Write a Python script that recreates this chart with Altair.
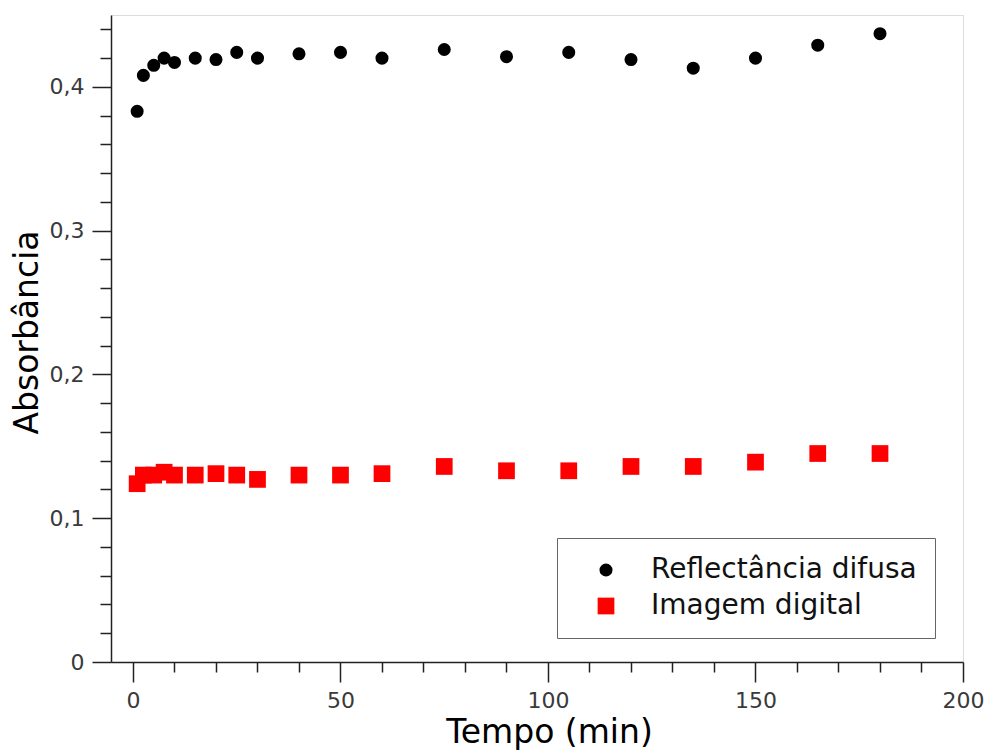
import altair as alt
import pandas as pd

# Tempo de leitura (min)
tempo = [1, 2.5, 5, 7.5, 10, 15, 20, 25, 30, 40, 50, 60, 75, 90, 105, 120, 135, 150, 165, 180]

# Absorbância medida por reflectância difusa
reflectancia = [0.383, 0.408, 0.415, 0.420, 0.417, 0.420, 0.419, 0.424, 0.420, 0.423,
                0.424, 0.420, 0.426, 0.421, 0.424, 0.419, 0.413, 0.420, 0.429, 0.437]

# Absorbância obtida por imagem digital
imagem = [0.124, 0.130, 0.130, 0.132, 0.130, 0.130, 0.131, 0.130, 0.127, 0.130,
          0.130, 0.131, 0.136, 0.133, 0.133, 0.136, 0.136, 0.139, 0.145, 0.145]

series = ["Reflectância difusa", "Imagem digital"]

df = pd.concat([
    pd.DataFrame({"tempo": tempo, "abs": reflectancia, "serie": series[0]}),
    pd.DataFrame({"tempo": tempo, "abs": imagem, "serie": series[1]}),
])

FONT = "DejaVu Sans"

y_ticks = [round(i * 0.02, 2) for i in range(23)]
x_ticks = list(range(0, 201, 10))

y_major = "abs(datum.value*10 - round(datum.value*10)) < 1e-6"
x_major = "datum.value % 50 == 0"

x_axis = alt.Axis(
    values=x_ticks,
    labelExpr=f"{x_major} ? format(datum.value, 'd') : ''",
    tickSize={"condition": {"test": x_major, "value": 20}, "value": 10},
    grid=False,
    title="Tempo (min)",
    titleFontSize=33,
    titleFontWeight="normal",
    titleFont=FONT,
    titleColor="#000000",
    titleX=438,
    titleY=80,
    titleAlign="center",
    titleBaseline="alphabetic",
    labelFontSize=22,
    labelFont=FONT,
    labelColor="#3a3a3a",
    labelPadding=8,
    labelFlush=False,
    domainColor="#222222",
    domainWidth=1.5,
    tickColor="#222222",
    tickWidth=1.5,
)

y_axis = alt.Axis(
    values=y_ticks,
    labelExpr=f"{y_major} ? (datum.value == 0 ? '0' : replace(format(datum.value, '.1f'), '.', ',')) : ''",
    tickSize={"condition": {"test": y_major, "value": 19}, "value": 11},
    grid=False,
    title="Absorbância",
    titleFontSize=33,
    titleFontWeight="normal",
    titleFont=FONT,
    titleColor="#000000",
    titleAngle=-90,
    titleX=-74,
    titleY=317,
    titleAlign="center",
    titleBaseline="alphabetic",
    labelFontSize=22,
    labelFont=FONT,
    labelColor="#3a3a3a",
    labelPadding=8,
    labelFlush=False,
    domainColor="#222222",
    domainWidth=1.5,
    tickColor="#222222",
    tickWidth=1.5,
)

legend = alt.Legend(
    title=None,
    orient="none",
    legendX=446,
    legendY=523,
    direction="vertical",
    fillColor="#ffffff",
    strokeColor="#666666",
    padding=18,
    symbolOffset=17,
    labelOffset=31,
    labelLimit=500,
    labelFontSize=28,
    labelFont=FONT,
    labelColor="#111111",
    rowPadding=8,
    symbolStrokeWidth=0,
)

chart = alt.Chart(df).mark_point(filled=True, opacity=1).encode(
    x=alt.X("tempo:Q", scale=alt.Scale(domain=[-5.3, 200], nice=False, zero=False), axis=x_axis),
    y=alt.Y("abs:Q", scale=alt.Scale(domain=[0, 0.45], nice=False, zero=False), axis=y_axis),
    color=alt.Color("serie:N", scale=alt.Scale(domain=series, range=["#000000", "#ff0000"]), legend=legend),
    shape=alt.Shape("serie:N", scale=alt.Scale(domain=series, range=["circle", "square"]), legend=legend),
    size=alt.Size("serie:N", scale=alt.Scale(domain=series, range=[170, 280]), legend=legend),
).properties(
    width=852,
    height=647,
    padding={"left": 111, "top": 15, "right": 24, "bottom": 89},
    autosize=alt.AutoSizeParams(type="none"),
).configure_view(
    stroke=None,
).configure_legend(
    strokeWidth=2,
).configure(
    background="#ffffff",
)

chart.save("out.html", embed_options={"renderer": "svg", "actions": False})
